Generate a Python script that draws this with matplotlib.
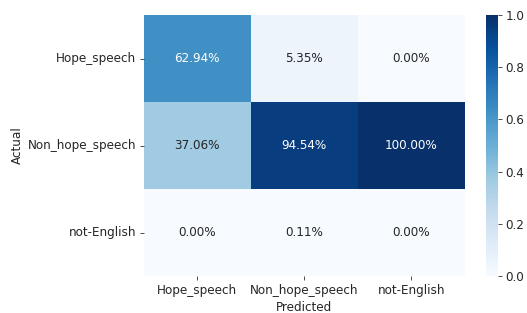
import numpy as np
import matplotlib
matplotlib.use("Agg")
import matplotlib.pyplot as plt
import seaborn as sns

LABELS = ["Hope_speech", "Non_hope_speech", "not-English"]
ROW_HOPE = [0.6294, 0.0535, 0.0]
ROW_NON_HOPE = [0.3706, 0.9454, 1.0]
ROW_NOT_ENGLISH = [0.0, 0.0011, 0.0]

TEXT = "#262626"
plt.rcParams.update({
    "font.size": 12,
    "text.color": TEXT,
    "axes.labelcolor": TEXT,
    "xtick.color": TEXT,
    "ytick.color": TEXT,
    "xtick.major.size": 4,
    "ytick.major.size": 4,
})

matrix = np.array([ROW_HOPE, ROW_NON_HOPE, ROW_NOT_ENGLISH])

fig = plt.figure(figsize=(527 / 72, 313 / 72), dpi=72)
ax = fig.add_axes([0.273, 0.118, 0.609, 0.834])
cax = fig.add_axes([0.922, 0.118, 0.023, 0.834])

sns.heatmap(
    matrix,
    annot=True,
    fmt=".2%",
    cmap="Blues",
    vmin=0,
    vmax=1,
    xticklabels=LABELS,
    yticklabels=LABELS,
    ax=ax,
    cbar_ax=cax,
    annot_kws={"size": 12},
)
ax.set_xlabel("Predicted")
ax.set_ylabel("Actual")
ax.tick_params(axis="y", rotation=0)
ax.tick_params(axis="x", rotation=0)
cax.tick_params(length=4)
cax.set_yticks([0, 0.2, 0.4, 0.6, 0.8, 1.0])
cax.set_yticklabels(["0.0", "0.2", "0.4", "0.6", "0.8", "1.0"])

fig.savefig("out.png", dpi=72)
